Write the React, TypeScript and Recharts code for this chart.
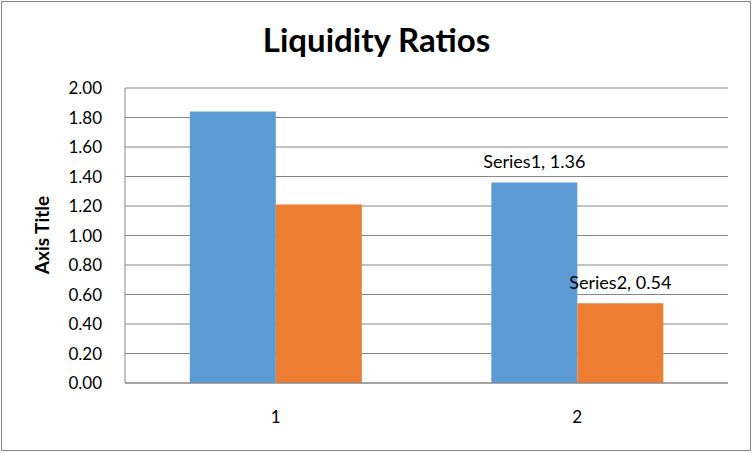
import React from 'react';
import { BarChart, Bar, XAxis, YAxis, CartesianGrid, LabelList } from 'recharts';

const categories = ['1', '2'];
const series1 = [1.84, 1.36];
const series2 = [1.21, 0.54];
const showLabels = [false, true];
const yTicks = [0, 0.2, 0.4, 0.6, 0.8, 1.0, 1.2, 1.4, 1.6, 1.8, 2.0];

const data = categories.map((name, i) => ({
    name,
    Series1: series1[i],
    Series2: series2[i],
}));

const makeLabel = (seriesName: string) => (props: any) => {
    const { x, y, width, value, index } = props;
    if (!showLabels[index]) return null;
    return (
        <text
            x={Number(x) + Number(width) / 2}
            y={Number(y) - 14}
            textAnchor='middle'
            fill='#000'
            fontSize={18}
        >
            {`${seriesName}, ${Number(value).toFixed(2)}`}
        </text>
    );
};

const App = () => {
    return (
        <div
            style={{
                position: 'absolute',
                left: 0,
                top: 0,
                width: 753,
                height: 453,
                background: '#fff',
                fontFamily: 'Lato, sans-serif',
            }}
        >
            <div
                style={{
                    position: 'absolute',
                    left: 1,
                    top: 1,
                    width: 750,
                    height: 450,
                    boxSizing: 'border-box',
                    border: '1px solid #868686',
                }}
            />
            <div
                style={{
                    position: 'absolute',
                    left: 0,
                    top: 19,
                    width: 753,
                    textAlign: 'center',
                    fontSize: 33,
                    fontWeight: 700,
                    lineHeight: '40px',
                    color: '#000',
                }}
            >
                Liquidity Ratios
            </div>
            <BarChart
                width={753}
                height={453}
                data={data}
                margin={{ top: 88, right: 25, bottom: 30, left: 0 }}
                barCategoryGap='21.5%'
                barGap={0}
                style={{ position: 'absolute', left: 0, top: 0 }}
            >
                <CartesianGrid horizontal vertical={false} stroke='#868686' />
                <XAxis
                    dataKey='name'
                    height={40}
                    tickLine={false}
                    axisLine={{ stroke: '#868686' }}
                    tick={{ fill: '#000', fontSize: 17 }}
                    tickMargin={22}
                />
                <YAxis
                    width={125}
                    domain={[0, 2]}
                    ticks={yTicks}
                    interval={0}
                    tickFormatter={(v: number) => v.toFixed(2)}
                    tickLine={false}
                    axisLine={{ stroke: '#868686' }}
                    tick={{ fill: '#000', fontSize: 17 }}
                    tickMargin={17}
                    label={{
                        content: () => (
                            <text
                                x={41}
                                y={235}
                                transform='rotate(-90 41 235)'
                                textAnchor='middle'
                                dominantBaseline='central'
                                fontSize={19}
                                fontWeight={700}
                                fill='#000'
                            >
                                Axis Title
                            </text>
                        ),
                    }}
                />
                <Bar dataKey='Series1' fill='#5B9BD5' isAnimationActive={false}>
                    <LabelList dataKey='Series1' content={makeLabel('Series1')} />
                </Bar>
                <Bar dataKey='Series2' fill='#ED7D31' isAnimationActive={false}>
                    <LabelList dataKey='Series2' content={makeLabel('Series2')} />
                </Bar>
            </BarChart>
        </div>
    );
};

export default App;
